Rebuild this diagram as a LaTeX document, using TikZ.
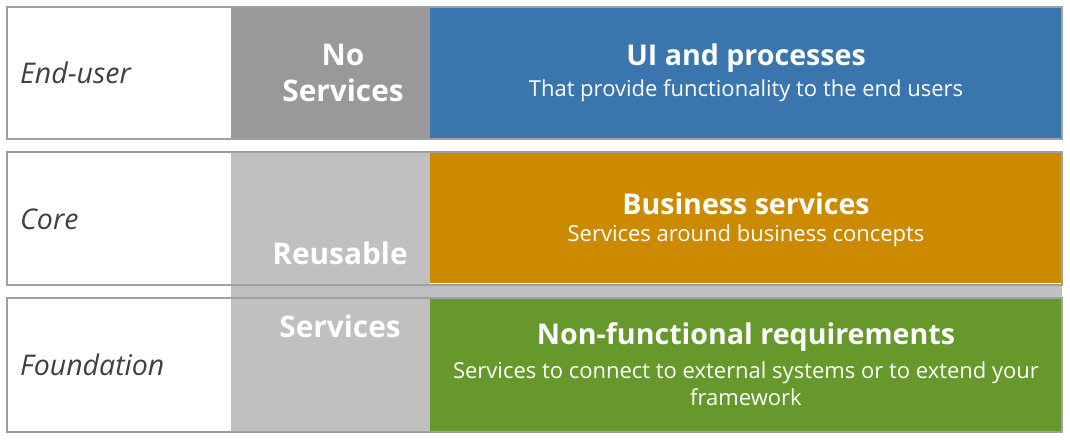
\documentclass[tikz,border=0pt]{standalone}
\usepackage{fontspec}
\setmainfont{Open Sans}
\usetikzlibrary{positioning}

\definecolor{rowline}{HTML}{A0A0A0}
\definecolor{labelgray}{HTML}{404040}
\definecolor{nogray}{HTML}{999999}
\definecolor{reusegray}{HTML}{C0C0C0}
\definecolor{uiblue}{HTML}{3A75AE}
\definecolor{bizorange}{HTML}{CC8A00}
\definecolor{nfgreen}{HTML}{67982C}

\begin{document}
\begin{tikzpicture}[
    x=1pt, y=-1pt,
    rowbox/.style={rectangle, draw=rowline, line width=1.3pt,
                   minimum width=1055pt, inner sep=0pt},
    tierfill/.style={rectangle, minimum width=632pt, inner sep=0pt},
    tier/.style={anchor=west, text=labelgray, inner sep=0pt,
                 font=\fontsize{28.5}{34}\selectfont\itshape},
    svc/.style={text=white, align=center, inner sep=0pt,
                font=\fontsize{29.8}{36}\selectfont\bfseries},
    head/.style={text=white, inner sep=0pt,
                 font=\fontsize{28.6}{34}\selectfont\bfseries},
    sub/.style={text=white, align=center, inner sep=0pt,
                font=\fontsize{22}{27}\selectfont}
]
\useasboundingbox (0,0) rectangle (1070,440);

% Service columns
\node[rectangle, fill=nogray, minimum width=199pt, minimum height=132pt,
      inner sep=0pt] (nosvc) at (330.5,73) {};
\node[rectangle, fill=reusegray, minimum width=199pt, minimum height=280pt,
      inner sep=0pt] (reuse) at (330.5,292) {};
\node[rectangle, fill=reusegray, minimum width=831pt, minimum height=13pt,
      inner sep=0pt] (gap) at (646.5,291.5) {};

% Coloured tiers
\node[tierfill, fill=uiblue, minimum height=132pt] (ui) at (746,73) {};
\node[tierfill, fill=bizorange, minimum height=131pt] (biz) at (746,217.5) {};
\node[tierfill, fill=nfgreen, minimum height=134pt] (nf) at (746,365) {};

% Row outlines
\node[rowbox, minimum height=132pt] (enduser) at (534.5,73) {};
\node[rowbox, minimum height=133pt] (core) at (534.5,218.5) {};
\node[rowbox, minimum height=134pt] (found) at (534.5,365) {};

% Tier labels
\node[tier] (enduserlbl) at (20,73) {End-user};
\node[tier] (corelbl) at (20,219) {Core};
\node[tier] (foundlbl) at (20,365) {Foundation};

% Service labels
\node[svc] (nolbl) at (343,73) {No\\Services};
\node[svc] (reuselbl) at (340,253) {Reusable};
\node[svc] (svclbl) at (340,326) {Services};

% Tier texts
\node[head] (uihead) at (746,58) {UI and processes};
\node[sub] (uisub) at (746,91) {That provide functionality to the end users};
\node[head] (bizhead) at (746,204) {Business services};
\node[sub] (bizsub) at (746,236) {Services around business concepts};
\node[head] (nfhead) at (746,337) {Non-functional requirements};
\node[sub] (nfsub) at (746,383.5) {Services to connect to external systems or to extend your\\framework};

\end{tikzpicture}
\end{document}
